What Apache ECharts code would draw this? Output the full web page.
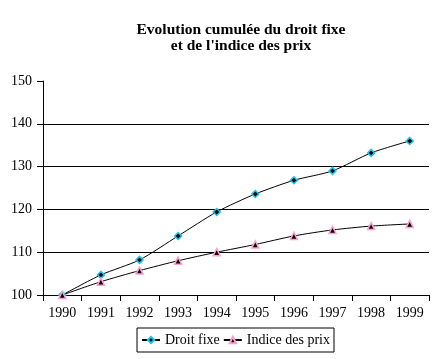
<!DOCTYPE html>
<html><head><meta charset="utf-8">
<script src="https://cdn.jsdelivr.net/npm/echarts@6/dist/echarts.min.js"></script>
<style>html,body{margin:0;padding:0;background:#fff}#c{width:437px;height:359px}</style>
</head><body><div id="c"></div>
<script>
const years = ['1990','1991','1992','1993','1994','1995','1996','1997','1998','1999'];
const droitFixe = [100, 104.7, 108.2, 113.8, 119.4, 123.6, 126.8, 129.0, 133.2, 136.0];
const indicePrix = [100, 103.1, 105.7, 108.0, 110.0, 111.8, 113.8, 115.2, 116.1, 116.6];
const yTicks = [100, 110, 120, 130, 140, 150];
const F = '"Liberation Serif","Times New Roman",serif';
const chart = echarts.init(document.getElementById('c'));
chart.setOption({
  animation: false,
  backgroundColor: '#fff',
  title: {
    text: 'Evolution cumulée du droit fixe\net de l\'indice des prix',
    left: 236, textAlign: 'center', top: 17,
    textStyle: {fontFamily: F, fontSize: 15.5, fontWeight: 'bold', color: '#000', lineHeight: 16}
  },
  legend: {
    bottom: 7, left: 137,
    itemWidth: 18, itemHeight: 8, itemGap: 3,
    borderColor: '#000', borderWidth: 1, borderRadius: 0, padding: [5, 4],
    textStyle: {fontFamily: F, fontSize: 14, color: '#000'},
    data: ['Droit fixe', 'Indice des prix']
  },
  grid: {left: 43, right: 8, top: 81, bottom: 64, containLabel: false},
  xAxis: {
    type: 'category', data: years, boundaryGap: true,
    axisLine: {lineStyle: {color: '#000', width: 1}},
    axisTick: {show: true, length: 6, lineStyle: {color: '#000'}},
    axisLabel: {fontFamily: F, fontSize: 14, color: '#000', margin: 11},
    splitLine: {show: false}
  },
  yAxis: {
    type: 'value', min: yTicks[0], max: yTicks[yTicks.length-1], interval: 10,
    axisLine: {show: true, lineStyle: {color: '#000', width: 1}},
    axisTick: {show: true, length: 6, lineStyle: {color: '#000'}},
    axisLabel: {fontFamily: F, fontSize: 14, color: '#000', margin: 11},
    splitLine: {show: true, lineStyle: {color: ['#000','#000','#000','#000','#000','rgba(0,0,0,0)'], width: 1}}
  },
  series: [
    {
      name: 'Droit fixe', type: 'line', data: droitFixe, smooth: 0.25,
      symbol: 'diamond', symbolSize: 7,
      itemStyle: {color: '#000', borderColor: '#19c6f0', borderWidth: 1.5},
      lineStyle: {color: '#000', width: 1}
    },
    {
      name: 'Indice des prix', type: 'line', data: indicePrix, smooth: 0.25,
      symbol: 'triangle', symbolSize: 7,
      itemStyle: {color: '#000', borderColor: '#ff9fce', borderWidth: 1.5},
      lineStyle: {color: '#000', width: 1}
    }
  ]
});
</script></body></html>
